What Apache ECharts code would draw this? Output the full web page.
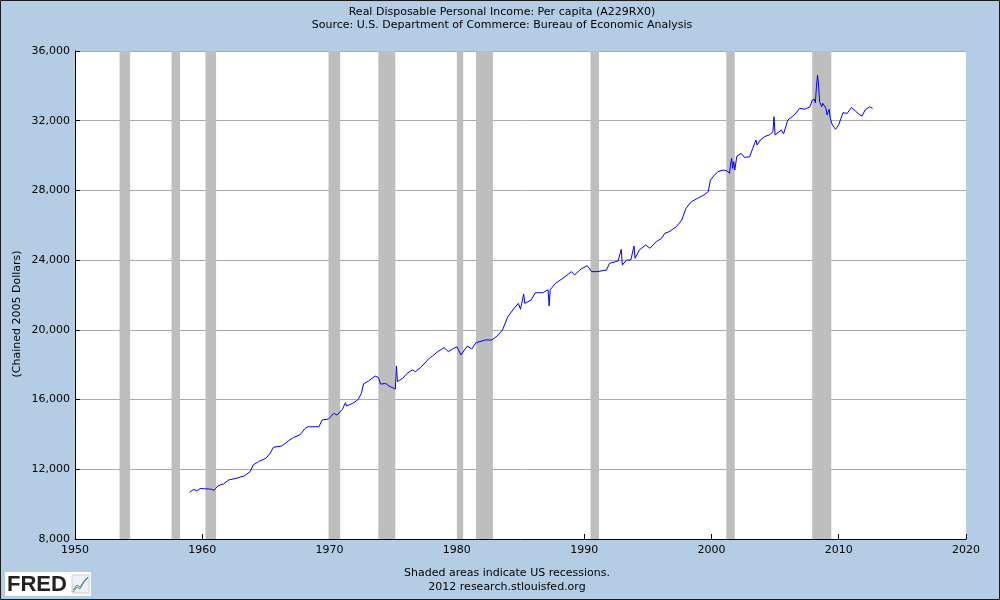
<!DOCTYPE html>
<html>
<head>
<meta charset="utf-8">
<script src="https://cdn.jsdelivr.net/npm/echarts@6/dist/echarts.min.js"></script>
<style>
html,body{margin:0;padding:0;background:#b4cde4;}
#chart{width:1000px;height:600px;}
</style>
</head>
<body>
<div id="chart"></div>
<script>
// Monthly observations (YYYY-MM) and values, chained 2005 dollars
var months = [
"1959-01","1959-05","1959-08","1959-11","1960-03","1960-07","1960-10","1960-12","1961-04","1961-09",
"1962-02","1962-09","1963-05","1963-10","1964-01","1964-06","1965-01","1965-05","1965-08","1966-04",
"1966-10","1967-03","1967-09","1968-02","1968-05","1969-03","1969-06","1969-12","1970-05","1970-08",
"1971-01","1971-04","1971-05","1971-12","1972-04","1972-07","1972-09","1973-02","1973-08","1973-11",
"1974-01","1974-06","1974-09","1975-03","1975-04","1975-05","1975-10","1976-02","1976-07","1976-10",
"1977-03","1977-11","1978-02","1978-07","1979-01","1979-05","1979-10","1980-01","1980-05","1980-08",
"1980-11","1981-03","1981-07","1982-04","1982-10","1983-03","1983-08","1984-01","1984-07","1984-11",
"1985-01","1985-04","1985-05","1985-11","1986-03","1986-10","1987-03","1987-04","1987-05","1987-10",
"1988-05","1989-01","1989-04","1989-10","1990-04","1990-08","1991-01","1991-10","1992-01","1992-09",
"1992-12","1993-01","1993-05","1993-09","1993-12","1994-01","1994-05","1994-11","1995-03","1995-09",
"1996-02","1996-05","1996-09","1997-04","1997-09","1998-01","1998-06","1998-12","1999-06","1999-10",
"1999-12","2000-04","2000-07","2000-12","2001-04","2001-06","2001-07","2001-08","2001-09","2001-10",
"2001-11","2002-01","2002-05","2002-08","2003-01","2003-04","2003-07","2003-08","2003-11","2004-03",
"2004-08","2004-11","2004-12","2005-01","2005-02","2005-07","2005-09","2006-01","2006-05","2006-08",
"2006-12","2007-05","2007-10","2007-12","2008-02","2008-03","2008-04","2008-05","2008-06","2008-07",
"2008-09","2008-10","2009-01","2009-02","2009-04","2009-05","2009-07","2009-10","2010-01","2010-05",
"2010-09","2011-01","2011-05","2011-09","2011-11","2012-02","2012-06","2012-09"
];
var values = [
10680,10850,10750,10900,10880,10870,10850,10790,11060,11160,
11390,11480,11630,11860,12250,12440,12630,12920,13260,13340,
13620,13830,13970,14350,14440,14440,14830,14880,15210,15110,
15440,15820,15630,15820,16010,16360,16890,17080,17350,17270,
16890,16920,16780,16600,17930,17030,17220,17500,17700,17600,
17850,18370,18500,18750,18980,18750,18940,19030,18560,18840,
19070,18900,19260,19420,19420,19650,19990,20750,21240,21520,
21180,22060,21520,21710,22130,22130,22300,21370,22300,22670,
22960,23340,23150,23490,23680,23340,23340,23430,23820,23950,
24620,23720,24010,24010,24810,24100,24580,24870,24680,25060,
25250,25540,25630,25920,26300,26970,27350,27550,27740,27930,
28600,28880,29070,29170,29110,28980,29460,29840,29270,29650,
29170,29970,30130,29900,29930,30420,30890,30610,30890,31080,
31200,31370,32230,31180,31120,31470,31240,32040,32230,32380,
32710,32660,32800,33190,33230,33030,33950,34620,34050,33090,
32800,33000,32710,32330,32650,32140,31760,31510,31760,32460,
32420,32760,32540,32330,32270,32620,32800,32710
];
// NBER recessions (start, end month)
var recessionStart = ["1953-07","1957-08","1960-04","1969-12","1973-11","1980-01","1981-07","1990-07","2001-03","2007-12"];
var recessionEnd   = ["1954-05","1958-04","1961-02","1970-11","1975-03","1980-07","1982-11","1991-03","2001-11","2009-06"];
var yTicks = [8000,12000,16000,20000,24000,28000,32000,36000];
var xTicks = [1950,1960,1970,1980,1990,2000,2010,2020];

var titleText = "Real Disposable Personal Income: Per capita (A229RX0)";
var subtitleText = "Source: U.S. Department of Commerce: Bureau of Economic Analysis";
var yName = "(Chained 2005 Dollars)";
var footer1 = "Shaded areas indicate US recessions.";
var footer2 = "2012 research.stlouisfed.org";

function toYear(m){ var p = m.split("-"); return +p[0] + (+p[1]-1)/12; }
var seriesData = months.map(function(m,i){ return [toYear(m), values[i]]; });
var areas = recessionStart.map(function(s,i){ return [{xAxis: toYear(s)}, {xAxis: toYear(recessionEnd[i])}]; });
function fmt(v){ return String(v).replace(/\B(?=(\d{3})+(?!\d))/g, ","); }

var FONT = "DejaVu Sans";
var chart = echarts.init(document.getElementById('chart'), null, {renderer:'canvas'});
chart.setOption({
  backgroundColor: '#b4cde4',
  animation: false,
  grid: {left: 75, right: 34, top: 51, bottom: 61, backgroundColor: '#ffffff', show: true, borderWidth: 0},
  xAxis: {
    type: 'value', min: xTicks[0], max: xTicks[xTicks.length-1], interval: 10,
    axisLine: {show: true, onZero: false, lineStyle: {color: '#000', width: 1}},
    axisTick: {show: true, inside: true, length: 5, lineStyle: {color: '#000'}},
    axisLabel: {color: '#000', fontFamily: FONT, fontSize: 11, margin: 6, formatter: function(v){ return String(v); }},
    splitLine: {show: false}
  },
  yAxis: {
    type: 'value', min: yTicks[0], max: yTicks[yTicks.length-1], interval: 4000,
    axisLine: {show: true, lineStyle: {color: '#000', width: 1}},
    axisTick: {show: true, inside: true, length: 5, lineStyle: {color: '#000'}},
    axisLabel: {color: '#000', fontFamily: FONT, fontSize: 11, margin: 5, formatter: fmt},
    splitLine: {show: true, lineStyle: {color: '#ababab', width: 1}}
  },
  series: [{
    type: 'line', data: seriesData, showSymbol: false, symbol: 'none',
    lineStyle: {color: '#0000ff', width: 1}, z: 3,
    markArea: {silent: true, itemStyle: {color: '#bebebe', opacity: 1}, data: areas, z: 1}
  }],
  graphic: [
    {type:'rect', shape:{x:0.5,y:0.5,width:999,height:599}, style:{fill:null, stroke:'#1a1a1a', lineWidth:1}, z: 100},
    {type:'text', x: 502, y: 12, style: {text: titleText, fontFamily: FONT, fontSize: 11, fill: '#000', align: 'center', verticalAlign: 'middle'}},
    {type:'text', x: 502, y: 25, style: {text: subtitleText, fontFamily: FONT, fontSize: 11, fill: '#000', align: 'center', verticalAlign: 'middle'}},
    {type:'text', x: 17, y: 314, rotation: Math.PI/2, style: {text: yName, fontFamily: FONT, fontSize: 11, fill: '#000', align: 'center', verticalAlign: 'middle'}},
    {type:'text', x: 507, y: 573, style: {text: footer1, fontFamily: FONT, fontSize: 11, fill: '#000', align: 'center', verticalAlign: 'middle'}},
    {type:'text', x: 507, y: 587, style: {text: footer2, fontFamily: FONT, fontSize: 11, fill: '#000', align: 'center', verticalAlign: 'middle'}},
    {type:'group', x: 5, y: 572, children: [
      {type:'rect', shape:{x:0,y:0,width:86,height:24}, style:{fill:'#ffffff'}},
      {type:'text', x: 2, y: 13, style:{text:'FRED', fontFamily:'Liberation Sans', fontWeight:'bold', fontSize: 22, fill:'#222', verticalAlign:'middle'}},
      {type:'rect', shape:{x:67,y:3,width:17,height:18}, style:{fill:'#eef2f6', stroke:'#c8d0d8', lineWidth:1}},
      {type:'polyline', shape:{points:[[68,20],[72,15],[75,17],[79,10],[83,6]]}, style:{stroke:'#6a9a3a', lineWidth:1, fill:null}},
      {type:'polyline', shape:{points:[[68,18],[72,13],[75,15],[79,9],[83,5]]}, style:{stroke:'#4a7ab8', lineWidth:1, fill:null}}
    ]}
  ]
});
</script>
</body>
</html>
